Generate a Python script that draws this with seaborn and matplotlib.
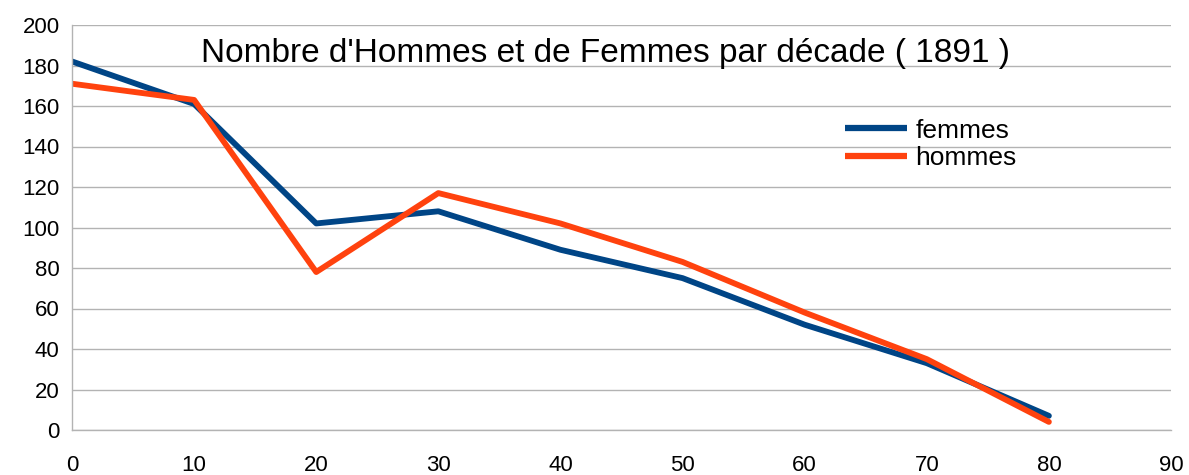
import pandas as pd
import matplotlib
matplotlib.use("Agg")
import matplotlib.pyplot as plt
import seaborn as sns

# data
decades = [0, 10, 20, 30, 40, 50, 60, 70, 80]
femmes = [182, 161, 102, 108, 89, 75, 52, 33, 7]
hommes = [171, 163, 78, 117, 102, 83, 58, 35, 4]

df = pd.DataFrame({
    "decade": decades * 2,
    "count": femmes + hommes,
    "serie": ["femmes"] * len(decades) + ["hommes"] * len(decades),
})

sns.set_theme(style="white")
plt.rcParams["font.family"] = ["Liberation Sans", "DejaVu Sans"]
plt.rcParams["text.color"] = "black"

fig = plt.figure(figsize=(11.89, 4.75), dpi=100)
ax = fig.add_axes([72 / 1189, 1 - 430 / 475, (1171 - 72) / 1189, (430 - 25) / 475])

sns.lineplot(data=df, x="decade", y="count", hue="serie",
             palette={"femmes": "#004586", "hommes": "#ff420e"},
             linewidth=4.2, ax=ax)

ax.set_xlim(0, 90)
ax.set_ylim(0, 200)
ax.set_xticks(range(0, 91, 10))
ax.set_yticks(range(0, 201, 20))
ax.set_xlabel("")
ax.set_ylabel("")
ax.yaxis.grid(True, color="#b3b3b3", linewidth=1)
ax.set_axisbelow(True)
for side in ["top", "right"]:
    ax.spines[side].set_visible(False)
for side in ["left", "bottom"]:
    ax.spines[side].set_color("#b3b3b3")
    ax.spines[side].set_linewidth(1)
ax.tick_params(axis="both", labelsize=16, colors="#b3b3b3", labelcolor="black",
               length=6, width=1, direction="out")
ax.tick_params(axis="x", pad=12)
ax.tick_params(axis="y", pad=3)

ax.text(0.485, 0.93, "Nombre d'Hommes et de Femmes par décade ( 1891 )",
        transform=ax.transAxes, ha="center", va="center", fontsize=24,
        color="black")

leg = ax.legend(loc="upper left", bbox_to_anchor=(0.694, 0.795), frameon=False,
                fontsize=19, handlelength=2.35, handletextpad=0.3,
                labelspacing=0.12, borderaxespad=0)
for line in leg.get_lines():
    line.set_linewidth(4.5)
    line.set_solid_capstyle("butt")
for t in leg.get_texts():
    t.set_color("black")

fig.savefig("out.png", dpi=100)
